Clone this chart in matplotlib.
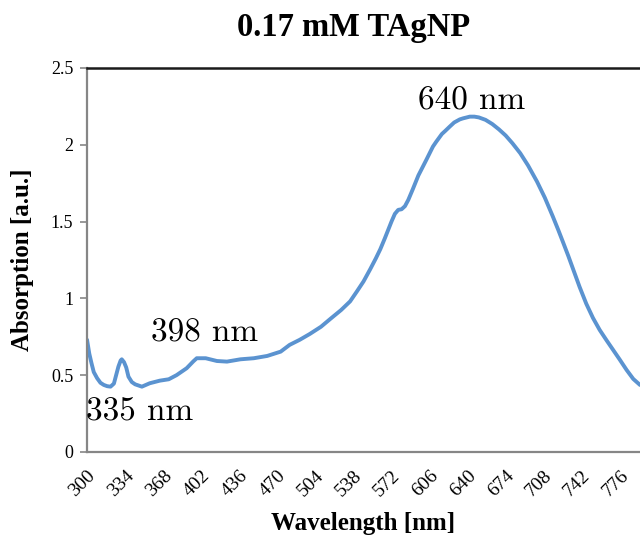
import matplotlib
matplotlib.use("Agg")
import matplotlib.pyplot as plt

wavelength = [300, 302, 304, 306, 309, 312, 315, 318, 321, 324, 326, 328, 330, 331, 333, 335, 337, 340,
              343, 349, 356, 365, 373, 380, 389, 395, 398, 406, 416, 425, 437, 449, 461, 473, 481, 490,
              499, 509, 518, 527, 535, 541, 547, 553, 558, 562, 566, 569, 572, 575, 578, 581, 584, 587,
              591, 596, 603, 609, 612, 617, 620, 624, 628, 633, 636, 642, 646, 650, 656, 662, 668, 674,
              680, 687, 694, 702, 709, 716, 721, 725, 730, 734, 740, 746, 752, 758, 764, 770, 776, 782,
              788, 794]
absorption = [0.73, 0.64, 0.577, 0.52, 0.48, 0.45, 0.436, 0.428, 0.425, 0.445, 0.50, 0.555, 0.595, 0.603,
              0.585, 0.55, 0.49, 0.455, 0.44, 0.425, 0.447, 0.464, 0.473, 0.50, 0.545, 0.59, 0.61, 0.61,
              0.592, 0.588, 0.603, 0.61, 0.625, 0.653, 0.697, 0.73, 0.768, 0.815, 0.870, 0.924, 0.98,
              1.044, 1.11, 1.19, 1.26, 1.32, 1.39, 1.445, 1.50, 1.55, 1.576, 1.580, 1.60, 1.641,
              1.71, 1.80, 1.90, 1.988, 2.02, 2.07, 2.09, 2.118, 2.145, 2.165, 2.172, 2.183, 2.183, 2.178,
              2.162, 2.135, 2.10, 2.06, 2.01, 1.945, 1.865, 1.76, 1.655, 1.535, 1.445, 1.37, 1.275, 1.195,
              1.075, 0.965, 0.872, 0.794, 0.728, 0.664, 0.60, 0.534, 0.475, 0.436]

xticks = [300, 334, 368, 402, 436, 470, 504, 538, 572, 606, 640, 674, 708, 742, 776]
yticks = [0, 0.5, 1, 1.5, 2, 2.5]
ytick_labels = ["0", "0.5", "1", "1.5", "2", "2.5"]

peak_labels = ["640 nm", "398 nm", "335 nm"]
peak_pos = [(643.7, 2.285), (405.4, 0.775), (347.3, 0.26)]

fig = plt.figure(figsize=(6.4, 5.38), dpi=100)
ax = fig.add_axes([0.136, 0.16, 0.864, 0.7137])

ax.plot(wavelength, absorption, color="#5B93D0", lw=2.8, solid_capstyle="round", solid_joinstyle="round")

ax.set_xlim(300, 794)
ax.set_ylim(0, 2.5)
ax.set_xticks(xticks)
ax.set_xticklabels([str(t) for t in xticks], rotation=45, ha="right", rotation_mode="anchor",
                   family="Liberation Serif", fontsize=14)
ax.set_yticks(yticks)
ax.set_yticklabels(ytick_labels, family="Liberation Serif", fontsize=13)
ax.tick_params(axis="x", length=0, pad=11)
ax.tick_params(axis="y", length=5, color="#868686", width=1.2, pad=5)

for s in ["left", "bottom"]:
    ax.spines[s].set_color("#868686")
    ax.spines[s].set_linewidth(1.6)
ax.spines["top"].set_color("#1a1a1a")
ax.spines["top"].set_linewidth(1.8)
ax.spines["right"].set_visible(False)

ax.set_xlabel("Wavelength [nm]", family="Liberation Serif", fontweight="bold", fontsize=18, labelpad=9)
ax.set_ylabel("Absorption [a.u.]", family="Liberation Serif", fontweight="bold", fontsize=18, labelpad=12)
fig.text(0.552, 0.948, "0.17 mM TAgNP", family="Liberation Serif", fontweight="bold", fontsize=23.5,
         ha="center", va="center")

for lab, (px, py) in zip(peak_labels, peak_pos):
    ax.text(px, py, lab, family="cmr10", fontsize=24, ha="center", va="center")

fig.savefig("out.png", dpi=100)
